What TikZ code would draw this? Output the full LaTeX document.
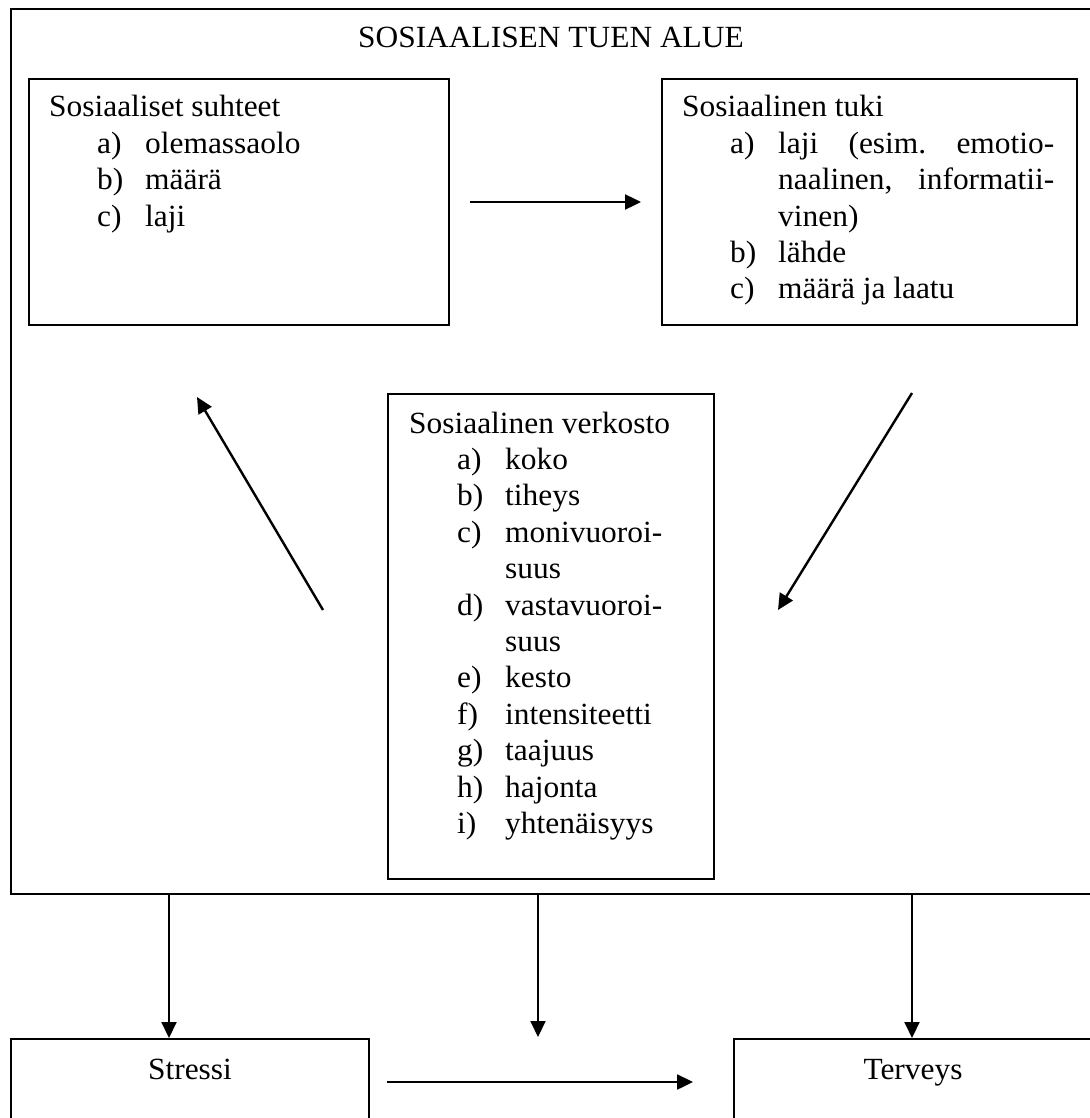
\documentclass[tikz,border=0pt]{standalone}
\usepackage{fontspec}
\setmainfont[FakeStretch=1.02]{Liberation Serif}
\usepackage{tikz}
\usetikzlibrary{
	calc,
	arrows.meta,
	positioning
	}
\tikzstyle{laatikko-std}=[draw,line width=2pt,rectangle,inner sep=0pt,anchor=north west]
\tikzstyle{teksti-std}=[inner sep=0pt,anchor=base west,font=\fontsize{30.8}{36.4}\selectfont]
\tikzstyle{nuoli-std}=[line width=2.4pt,-{Triangle[length=16pt,width=15pt]}]
\newcommand{\kohta}[2]{\hspace*{48pt}\makebox[48pt][l]{#1}#2}
\newcommand{\jatko}[1]{\hspace*{96pt}#1}
\frenchspacing

\begin{document}
\begin{tikzpicture}[x=1pt,y=-1pt]
\useasboundingbox (0,0) rectangle (1089,1118);

% laatikot
\node[laatikko-std,minimum width=1085pt,minimum height=885pt] (alue) at (10,8) {};
\node[laatikko-std,minimum width=420pt,minimum height=246pt] (suhteet) at (28,78) {};
\node[laatikko-std,minimum width=415pt,minimum height=246pt] (tuki) at (661,78) {};
\node[laatikko-std,minimum width=326pt,minimum height=485pt] (verkosto) at (387,393) {};
\node[laatikko-std,minimum width=358pt,minimum height=110pt] (stressi) at (10,1038) {};
\node[laatikko-std,minimum width=358pt,minimum height=110pt] (terveys) at (733,1038) {};

% tekstit
\node[teksti-std,anchor=base] (otsikko) at (551,48) {SOSIAALISEN TUEN ALUE};
\node[teksti-std] (suhteet-teksti) at (49,117) {\begin{tabular}[t]{@{}l@{}}
Sosiaaliset suhteet\\
\kohta{a)}{olemassaolo}\\
\kohta{b)}{määrä}\\
\kohta{c)}{laji}
\end{tabular}};
\node[teksti-std] (tuki-teksti) at (682,117) {\begin{tabular}[t]{@{}l@{}}
Sosiaalinen tuki\\
\kohta{a)}{\makebox[276pt][s]{laji (esim. emotio-}}\\
\jatko{\makebox[276pt][s]{naalinen, informatii-}}\\
\jatko{vinen)}\\
\kohta{b)}{lähde}\\
\kohta{c)}{määrä ja laatu}
\end{tabular}};
\node[teksti-std] (verkosto-teksti) at (409,433) {\begin{tabular}[t]{@{}l@{}}
Sosiaalinen verkosto\\
\kohta{a)}{koko}\\
\kohta{b)}{tiheys}\\
\kohta{c)}{monivuoroi-}\\
\jatko{suus}\\
\kohta{d)}{vastavuoroi-}\\
\jatko{suus}\\
\kohta{e)}{kesto}\\
\kohta{f)}{intensiteetti}\\
\kohta{g)}{taajuus}\\
\kohta{h)}{hajonta}\\
\kohta{i)}{yhtenäisyys}
\end{tabular}};
\node[teksti-std,anchor=base] (stressi-teksti) at (stressi.north |- 0,1079) {Stressi};
\node[teksti-std,anchor=base] (terveys-teksti) at (terveys.north |- 0,1079) {Terveys};

% nuolet
\coordinate (n1a) at (470,202);
\coordinate (n1b) at (641,202);
\coordinate (n2a) at (912,393);
\coordinate (n2b) at (778,610);
\coordinate (n3a) at (323,610);
\coordinate (n3b) at (197,397);
\coordinate (n4a) at (387,1082);
\coordinate (n4b) at (693,1082);
\coordinate (n5b) at (538,1037);

\draw[nuoli-std] (n1a) -- (n1b);
\draw[nuoli-std] (n2a) -- (n2b);
\draw[nuoli-std] (n3a) -- (n3b);
\draw[nuoli-std] (n4a) -- (n4b);
\draw[nuoli-std,line width=2pt] (alue.south -| 169,0) -- (stressi.north -| 169,0);
\draw[nuoli-std,line width=2pt] (alue.south -| n5b) -- (n5b);
\draw[nuoli-std,line width=2pt] (alue.south -| 912,0) -- (terveys.north -| 912,0);
\end{tikzpicture}
\end{document}
